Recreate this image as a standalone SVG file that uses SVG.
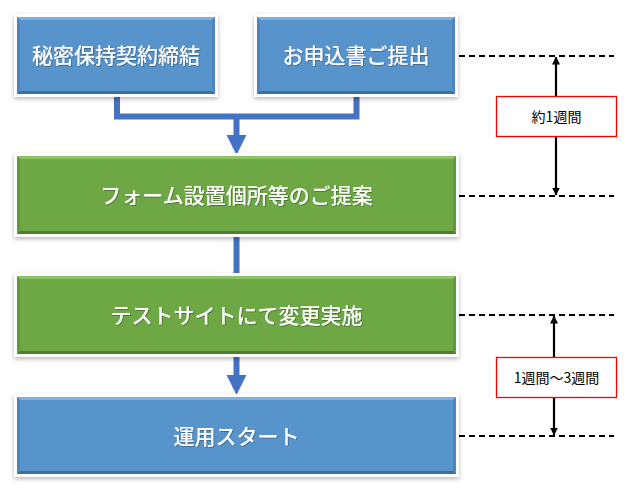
<svg xmlns="http://www.w3.org/2000/svg" width="632" height="494" viewBox="0 0 632 494">
  <defs>
    <filter id="sh" x="-10%" y="-10%" width="120%" height="130%">
      <feDropShadow dx="0" dy="2" stdDeviation="2" flood-color="#000" flood-opacity="0.28"/>
    </filter>
    <filter id="tsh" x="-5%" y="-20%" width="110%" height="140%">
      <feDropShadow dx="0.8" dy="0.8" stdDeviation="0.6" flood-color="#000" flood-opacity="0.35"/>
    </filter>
    <marker id="ah" viewBox="0 0 8 8" refX="7.5" refY="4" markerWidth="8" markerHeight="8" markerUnits="userSpaceOnUse" orient="auto">
      <path d="M0,0 L8,4 L0,8 Z" fill="#000"/>
    </marker>
  </defs>
  <style>
    .frame { fill: #ffffff; filter: url(#sh); }
    .blue { fill: #5894CC; }
    .green { fill: #6DA844; }
    .blue-hi { fill: #7DB0E0; }
    .blue-lo { fill: #3F6E9C; }
    .blue-side { fill: #4C85BB; }
    .green-hi { fill: #8DC463; }
    .green-lo { fill: #4E7E2E; }
    .green-side { fill: #619A3A; }
    .lbl { font-family: "Noto Sans CJK JP", "Noto Sans", sans-serif; font-size: 21px; font-weight: 500; fill: #ffffff; text-anchor: middle; filter: url(#tsh); }
    .conn { stroke: #4472C4; stroke-width: 6; fill: none; }
    .head { fill: #4472C4; }
    .dash { stroke: #000; stroke-width: 2; stroke-dasharray: 6 4; fill: none; }
    .tl { stroke: #000; stroke-width: 2.2; fill: none; marker-end: url(#ah); }
    .span { fill: #ffffff; stroke: #FF0000; stroke-width: 1.3; }
    .spantxt { font-family: "Noto Sans CJK JP", "Noto Sans", sans-serif; font-size: 14px; fill: #000; text-anchor: middle; }
  </style>

  <g id="connectors">
    <polyline class="conn" points="117,96 117,116.5 356.5,116.5 356.5,96"/>
    <line class="conn" x1="236.5" y1="116" x2="236.5" y2="137"/>
    <polygon class="head" points="226.5,135 246.5,135 236.5,155"/>
    <line class="conn" x1="236.5" y1="236" x2="236.5" y2="274"/>
    <line class="conn" x1="236.5" y1="355" x2="236.5" y2="377"/>
    <polygon class="head" points="226.5,375 246.5,375 236.5,395"/>
  </g>

  <g id="n1">
    <rect class="frame" x="14" y="14" width="204" height="83"/>
    <rect class="blue" x="17" y="17" width="198" height="77"/>
    <polygon class="blue-hi" points="17,17 215,17 212,20 20,20"/>
    <polygon class="blue-side" points="17,17 20,20 20,91 17,94"/>
    <polygon class="blue-side" points="215,17 212,20 212,91 215,94"/>
    <polygon class="blue-lo" points="17,94 215,94 212,91 20,91"/>
    <text class="lbl" x="116" y="63">秘密保持契約締結</text>
  </g>

  <g id="n2">
    <rect class="frame" x="254" y="14" width="204" height="83"/>
    <rect class="blue" x="257" y="17" width="198" height="77"/>
    <polygon class="blue-hi" points="257,17 455,17 452,20 260,20"/>
    <polygon class="blue-side" points="257,17 260,20 260,91 257,94"/>
    <polygon class="blue-side" points="455,17 452,20 452,91 455,94"/>
    <polygon class="blue-lo" points="257,94 455,94 452,91 260,91"/>
    <text class="lbl" x="356" y="63">お申込書ご提出</text>
  </g>

  <g id="n3">
    <rect class="frame" x="14" y="153" width="445" height="84"/>
    <rect class="green" x="17" y="156" width="439" height="78"/>
    <polygon class="green-hi" points="17,156 456,156 453,159 20,159"/>
    <polygon class="green-side" points="17,156 20,159 20,231 17,234"/>
    <polygon class="green-side" points="456,156 453,159 453,231 456,234"/>
    <polygon class="green-lo" points="17,234 456,234 453,231 20,231"/>
    <text class="lbl" x="236.5" y="203">フォーム設置個所等のご提案</text>
  </g>

  <g id="n4">
    <rect class="frame" x="14" y="273" width="445" height="84"/>
    <rect class="green" x="17" y="276" width="439" height="78"/>
    <polygon class="green-hi" points="17,276 456,276 453,279 20,279"/>
    <polygon class="green-side" points="17,276 20,279 20,351 17,354"/>
    <polygon class="green-side" points="456,276 453,279 453,351 456,354"/>
    <polygon class="green-lo" points="17,354 456,354 453,351 20,351"/>
    <text class="lbl" x="236.5" y="323">テストサイトにて変更実施</text>
  </g>

  <g id="n5">
    <rect class="frame" x="14" y="394" width="445" height="83"/>
    <rect class="blue" x="17" y="397" width="439" height="77"/>
    <polygon class="blue-hi" points="17,397 456,397 453,400 20,400"/>
    <polygon class="blue-side" points="17,397 20,400 20,471 17,474"/>
    <polygon class="blue-side" points="456,397 453,400 453,471 456,474"/>
    <polygon class="blue-lo" points="17,474 456,474 453,471 20,471"/>
    <text class="lbl" x="236.5" y="444">運用スタート</text>
  </g>

  <g id="timeline1">
    <line class="dash" x1="459" y1="56" x2="614" y2="56"/>
    <line class="dash" x1="459" y1="196" x2="614" y2="196"/>
    <line class="tl" x1="556" y1="116" x2="556" y2="57"/>
    <line class="tl" x1="556" y1="116" x2="556" y2="195"/>
    <rect class="span" x="496.5" y="96.5" width="120" height="40"/>
    <text class="spantxt" x="556.5" y="121.5">約1週間</text>
  </g>

  <g id="timeline2">
    <line class="dash" x1="459" y1="315" x2="614" y2="315"/>
    <line class="dash" x1="459" y1="436" x2="614" y2="436"/>
    <line class="tl" x1="554" y1="376" x2="554" y2="316"/>
    <line class="tl" x1="554" y1="376" x2="554" y2="435"/>
    <rect class="span" x="496.5" y="357.5" width="120" height="40"/>
    <text class="spantxt" x="556.5" y="382.5">1週間～3週間</text>
  </g>
</svg>
